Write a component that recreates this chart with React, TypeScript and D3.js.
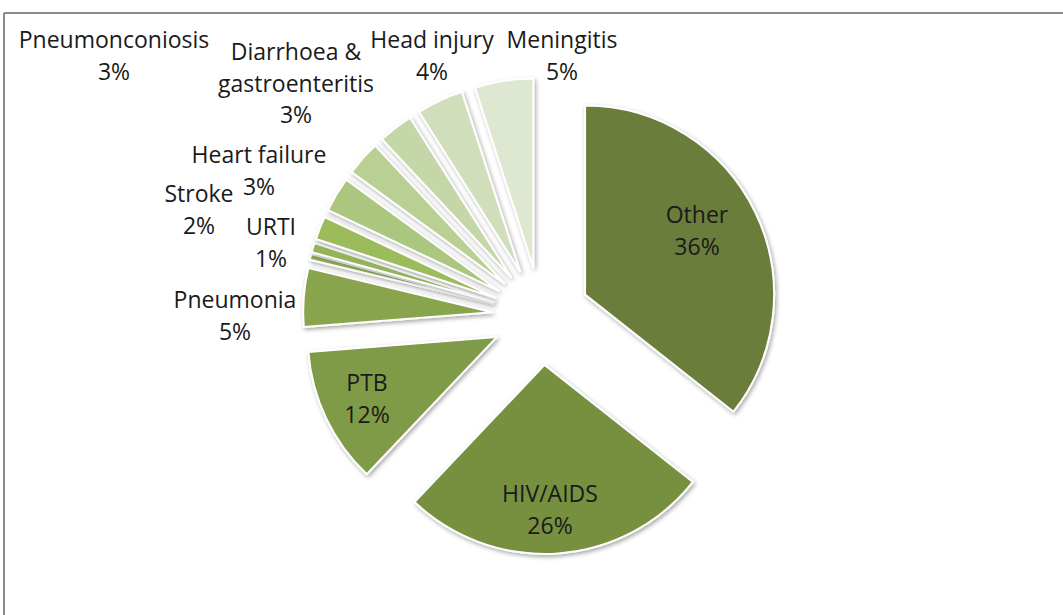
import React from "react";
import * as d3 from "d3";

// ---- data ----
const categories = [
  "Other",
  "HIV/AIDS",
  "PTB",
  "Pneumonia",
  "",
  "URTI",
  "Stroke",
  "Heart failure",
  "Pneumonconiosis",
  "Diarrhoea & gastroenteritis",
  "Head injury",
  "Meningitis",
];
const values = [35.7, 26.5, 11.7, 5.0, 0.5, 0.8, 2.0, 3.0, 3.0, 3.0, 4.0, 5.0];
const colors = [
  "#6a7d3b",
  "#76903f",
  "#7f9b47",
  "#88a44e",
  "#8fad55",
  "#95b45a",
  "#9cbc5c",
  "#abc67e",
  "#b9cf94",
  "#c5d6a8",
  "#d1debc",
  "#dee7d0",
];

// ---- layout ----
const W = 1063;
const H = 615;
const CX = 541;
const CY = 316;
const R = 189;
const EXPLODE = 49;
const LINE_H = 31.5;
// label anchors: center x, first baseline y
const labelAnchors: ([number, number] | null)[] = [
  [697, 223],
  [550, 502],
  [367, 391],
  [235, 308],
  null,
  [271, 235],
  [199, 202],
  [259, 163],
  [114, 48],
  [296, 60],
  [432, 48],
  [562, 48],
];

function splitLabel(name: string): string[] {
  if (name.includes("& ")) {
    const i = name.indexOf("& ");
    return [name.slice(0, i + 1), name.slice(i + 2)];
  }
  return [name];
}

export default function App() {
  const total = d3.sum(values);
  const pie = d3
    .pie<number>()
    .sort(null)
    .value((d) => d);
  const arcs = pie(values);
  const arc = d3.arc<d3.PieArcDatum<number>>().innerRadius(0).outerRadius(R);

  return (
    <svg
      width={W}
      height={H}
      style={{ position: "fixed", left: 0, top: 0, display: "block", background: "#fff" }}
    >
      <defs>
        <filter id="shadow" x="-20%" y="-20%" width="140%" height="140%">
          <feDropShadow dx="1.5" dy="2" stdDeviation="2.2" floodColor="#000" floodOpacity="0.35" />
        </filter>
      </defs>
      <rect x={0} y={0} width={W} height={H} fill="#fff" />
      {/* frame */}
      <line x1={4} y1={13} x2={W + 5} y2={13} stroke="#8a8a8a" strokeWidth={2} />
      <line x1={4} y1={13} x2={4} y2={H + 5} stroke="#8a8a8a" strokeWidth={2} />

      <g transform={`translate(${CX},${CY})`}>
        {arcs.map((a, i) => {
          const mid = (a.startAngle + a.endAngle) / 2;
          const dx = EXPLODE * Math.sin(mid);
          const dy = -EXPLODE * Math.cos(mid);
          return (
            <path
              key={i}
              d={arc(a) || ""}
              transform={`translate(${dx},${dy})`}
              fill={colors[i]}
              stroke="#ffffff"
              strokeWidth={2}
              strokeLinejoin="round"
              filter="url(#shadow)"
            />
          );
        })}
      </g>

      <g fontFamily="'Open Sans', sans-serif" fontSize={23} fill="#1a1a1a" textAnchor="middle">
        {arcs.map((a, i) => {
          const pos = labelAnchors[i];
          if (!pos || !categories[i]) return null;
          const pct = Math.round((values[i] / total) * 100) + "%";
          const lines = [...splitLabel(categories[i]), pct];
          return (
            <text key={i} x={pos[0]} y={pos[1]}>
              {lines.map((l, j) => (
                <tspan key={j} x={pos[0]} y={pos[1] + j * LINE_H}>
                  {l}
                </tspan>
              ))}
            </text>
          );
        })}
      </g>
    </svg>
  );
}
